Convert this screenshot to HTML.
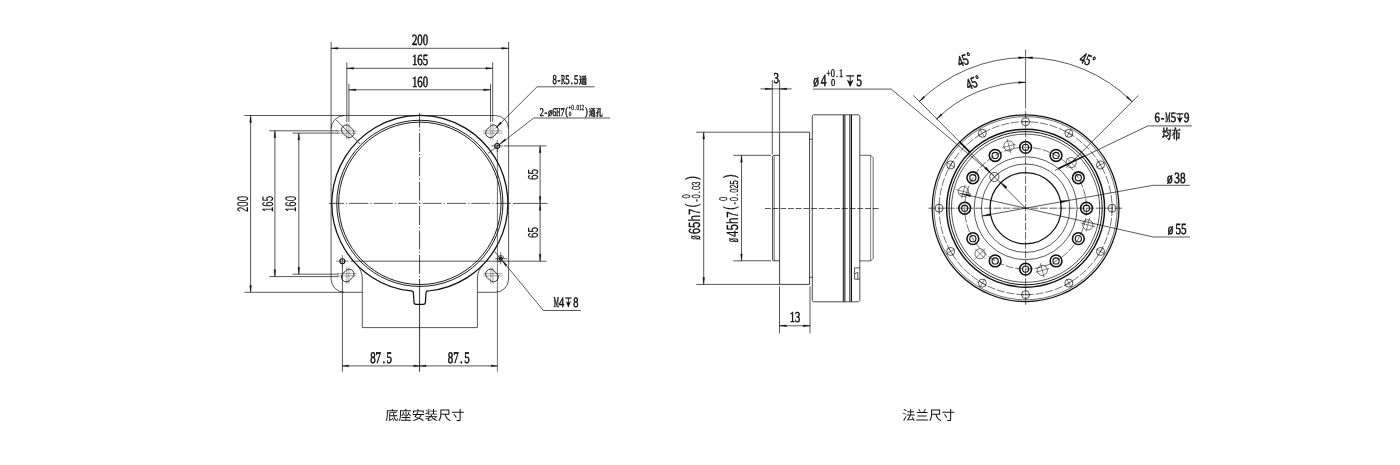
<!DOCTYPE html>
<html lang="zh"><head><meta charset="utf-8"><title>底座安装尺寸 / 法兰尺寸</title>
<style>
html,body{margin:0;padding:0;background:#fff;}
body{width:1400px;height:465px;overflow:hidden;font-family:"Liberation Sans",sans-serif;}
svg{display:block;will-change:transform;}
</style></head><body>
<svg width="1400" height="465" viewBox="0 0 1400 465" text-rendering="geometricPrecision">
<rect width="1400" height="465" fill="#fff"/>
<path d="M331.1,279 V128.8 A13.3,13.3 0 0 1 344.4,115.5 H495.3 A13.3,13.3 0 0 1 508.6,128.8 V279 A13.3,13.3 0 0 1 495.3,292.3 H477.4 M331.1,279 A13.3,13.3 0 0 0 344.4,292.3 H362.3" stroke="#111" stroke-width="0.7" fill="none"/>
<path d="M356.83,264.91 A19.9,19.9 0 0 1 362.3,279 V327.6 H477.4 V279 A19.9,19.9 0 0 1 482.87,264.91" stroke="#111" stroke-width="0.7" fill="none"/>
<path d="M428.2,291 A88.0,88.0 0 1 0 411.2,290.97 Q413.4,290.86 413.4,293.16 L414,302.3 Q414.1,304.3 416,304.3 H423.4 Q425.3,304.3 425.4,302.3 L426,293.18 Q426,290.88 428.2,291 Z" stroke="#111" stroke-width="1.25" fill="none"/>
<circle cx="419.85" cy="203.35" r="83.1" stroke="#111" stroke-width="0.95" fill="none"/>
<circle cx="419.85" cy="203.35" r="81.2" stroke="#111" stroke-width="0.95" fill="none"/>
<line x1="329" y1="203.4" x2="510.8" y2="203.4" stroke="#111" stroke-width="0.7" stroke-dasharray="19.1 2 1.3 2" stroke-dashoffset="4.1"/>
<line x1="513" y1="203.4" x2="547.5" y2="203.4" stroke="#111" stroke-width="0.7"/>
<line x1="419.6" y1="113.2" x2="419.6" y2="277.5" stroke="#111" stroke-width="0.8" stroke-dasharray="19.1 2 1.3 2" stroke-dashoffset="4.8"/>
<line x1="419.6" y1="279" x2="419.6" y2="371.7" stroke="#111" stroke-width="0.85"/>
<rect x="-6.9" y="-4.8" width="13.8" height="9.6" rx="4.8" ry="4.8" transform="translate(347.75,131.3) rotate(-135)" fill="none" stroke="#111" stroke-width="0.8"/>
<line x1="346.8" y1="123" x2="346.8" y2="139.6" stroke="#333" stroke-width="0.45"/>
<line x1="348.9" y1="123" x2="348.9" y2="139.6" stroke="#333" stroke-width="0.45"/>
<line x1="337.25" y1="130.9" x2="356.55" y2="130.9" stroke="#333" stroke-width="0.45"/>
<line x1="337.25" y1="133.2" x2="356.55" y2="133.2" stroke="#333" stroke-width="0.45"/>
<rect x="-6.9" y="-4.8" width="13.8" height="9.6" rx="4.8" ry="4.8" transform="translate(491.95,131.3) rotate(-45)" fill="none" stroke="#111" stroke-width="0.8"/>
<line x1="492.9" y1="123" x2="492.9" y2="139.6" stroke="#333" stroke-width="0.45"/>
<line x1="490.8" y1="123" x2="490.8" y2="139.6" stroke="#333" stroke-width="0.45"/>
<line x1="483.15" y1="130.9" x2="502.45" y2="130.9" stroke="#333" stroke-width="0.45"/>
<line x1="483.15" y1="133.2" x2="502.45" y2="133.2" stroke="#333" stroke-width="0.45"/>
<rect x="-6.9" y="-4.8" width="13.8" height="9.6" rx="4.8" ry="4.8" transform="translate(347.75,275.5) rotate(135)" fill="none" stroke="#111" stroke-width="0.8"/>
<line x1="346.8" y1="267.2" x2="346.8" y2="283.8" stroke="#333" stroke-width="0.45"/>
<line x1="348.9" y1="267.2" x2="348.9" y2="283.8" stroke="#333" stroke-width="0.45"/>
<line x1="337.25" y1="275.9" x2="356.55" y2="275.9" stroke="#333" stroke-width="0.45"/>
<line x1="337.25" y1="273.6" x2="356.55" y2="273.6" stroke="#333" stroke-width="0.45"/>
<rect x="-6.9" y="-4.8" width="13.8" height="9.6" rx="4.8" ry="4.8" transform="translate(491.95,275.5) rotate(45)" fill="none" stroke="#111" stroke-width="0.8"/>
<line x1="492.9" y1="267.2" x2="492.9" y2="283.8" stroke="#333" stroke-width="0.45"/>
<line x1="490.8" y1="267.2" x2="490.8" y2="283.8" stroke="#333" stroke-width="0.45"/>
<line x1="483.15" y1="275.9" x2="502.45" y2="275.9" stroke="#333" stroke-width="0.45"/>
<line x1="483.15" y1="273.6" x2="502.45" y2="273.6" stroke="#333" stroke-width="0.45"/>
<line x1="336.2" y1="119.9" x2="360.1" y2="144" stroke="#111" stroke-width="0.7"/>
<circle cx="497.2" cy="145.9" r="2.45" stroke="#111" stroke-width="1.15" fill="none"/>
<line x1="491.2" y1="145.9" x2="503.2" y2="145.9" stroke="#111" stroke-width="0.6"/>
<line x1="497.2" y1="139.9" x2="497.2" y2="151.9" stroke="#111" stroke-width="0.6"/>
<circle cx="342.4" cy="261.2" r="2.45" stroke="#111" stroke-width="1.15" fill="none"/>
<line x1="336.4" y1="261.2" x2="348.4" y2="261.2" stroke="#111" stroke-width="0.6"/>
<line x1="342.4" y1="255.2" x2="342.4" y2="267.2" stroke="#111" stroke-width="0.6"/>
<circle cx="500.7" cy="258.7" r="1.5" stroke="#111" stroke-width="1.2" fill="none"/>
<path d="M504.0,258.7 A3.3,3.3 0 1 0 500.7,262.0" stroke="#111" stroke-width="0.6" fill="none"/>
<line x1="495.2" y1="258.7" x2="507.4" y2="258.7" stroke="#111" stroke-width="0.6"/>
<line x1="500.7" y1="252.3" x2="500.7" y2="264.5" stroke="#111" stroke-width="0.6"/>
<line x1="331.1" y1="41.8" x2="331.1" y2="128.8" stroke="#111" stroke-width="0.7"/>
<line x1="508.6" y1="41.8" x2="508.6" y2="128.8" stroke="#111" stroke-width="0.7"/>
<line x1="331.1" y1="48.3" x2="508.6" y2="48.3" stroke="#111" stroke-width="0.7"/>
<polygon points="331.1,48.3 338,47.4 338,49.2" fill="#111" stroke="#111" stroke-width="0.3"/>
<polygon points="508.6,48.3 501.7,49.2 501.7,47.4" fill="#111" stroke="#111" stroke-width="0.3"/>
<g transform="translate(420,45.3)" font-family="'Liberation Serif', serif" font-size="15.57" text-anchor="middle" fill="#111" stroke="#111" stroke-width="0.6">
<text transform="scale(0.694,1)" x="-7.78 0 7.78">200</text>
</g>
<line x1="346.8" y1="62.3" x2="346.8" y2="122" stroke="#111" stroke-width="0.7"/>
<line x1="492.7" y1="62.3" x2="492.7" y2="122" stroke="#111" stroke-width="0.7"/>
<line x1="346.8" y1="68.3" x2="492.7" y2="68.3" stroke="#111" stroke-width="0.7"/>
<polygon points="346.8,68.3 353.7,67.4 353.7,69.2" fill="#111" stroke="#111" stroke-width="0.3"/>
<polygon points="492.7,68.3 485.8,69.2 485.8,67.4" fill="#111" stroke="#111" stroke-width="0.3"/>
<g transform="translate(420,65.3)" font-family="'Liberation Serif', serif" font-size="15.57" text-anchor="middle" fill="#111" stroke="#111" stroke-width="0.6">
<text transform="scale(0.694,1)" x="-7.78 0 7.78">165</text>
</g>
<line x1="348.9" y1="83.8" x2="348.9" y2="122" stroke="#111" stroke-width="0.7"/>
<line x1="490.5" y1="83.8" x2="490.5" y2="122" stroke="#111" stroke-width="0.7"/>
<line x1="348.9" y1="89.8" x2="490.5" y2="89.8" stroke="#111" stroke-width="0.7"/>
<polygon points="348.9,89.8 355.8,88.9 355.8,90.7" fill="#111" stroke="#111" stroke-width="0.3"/>
<polygon points="490.5,89.8 483.6,90.7 483.6,88.9" fill="#111" stroke="#111" stroke-width="0.3"/>
<g transform="translate(420,87.2)" font-family="'Liberation Serif', serif" font-size="15.57" text-anchor="middle" fill="#111" stroke="#111" stroke-width="0.6">
<text transform="scale(0.694,1)" x="-7.78 0 7.78">160</text>
</g>
<line x1="244.4" y1="115.5" x2="344.4" y2="115.5" stroke="#111" stroke-width="0.7"/>
<line x1="244.4" y1="292.3" x2="344.4" y2="292.3" stroke="#111" stroke-width="0.7"/>
<line x1="250.6" y1="115.5" x2="250.6" y2="292.3" stroke="#111" stroke-width="0.7"/>
<polygon points="250.6,115.5 251.5,122.4 249.7,122.4" fill="#111" stroke="#111" stroke-width="0.3"/>
<polygon points="250.6,292.3 249.7,285.4 251.5,285.4" fill="#111" stroke="#111" stroke-width="0.3"/>
<g transform="translate(248.4,204) rotate(-90)" font-family="'Liberation Sans', sans-serif" font-size="15.45" text-anchor="middle" fill="#111" stroke="#111" stroke-width="0.12">
<text transform="scale(0.617,1)" x="-8.59 0 8.59">200</text>
</g>
<line x1="269.1" y1="130.8" x2="338.5" y2="130.8" stroke="#111" stroke-width="0.7"/>
<line x1="269.1" y1="276.6" x2="338.5" y2="276.6" stroke="#111" stroke-width="0.7"/>
<line x1="274.9" y1="130.8" x2="274.9" y2="276.6" stroke="#111" stroke-width="0.7"/>
<polygon points="274.9,130.8 275.8,137.7 274,137.7" fill="#111" stroke="#111" stroke-width="0.3"/>
<polygon points="274.9,276.6 274,269.7 275.8,269.7" fill="#111" stroke="#111" stroke-width="0.3"/>
<g transform="translate(273,204) rotate(-90)" font-family="'Liberation Sans', sans-serif" font-size="15.45" text-anchor="middle" fill="#111" stroke="#111" stroke-width="0.12">
<text transform="scale(0.617,1)" x="-8.59 0 8.59">165</text>
</g>
<line x1="292.6" y1="133.1" x2="338.5" y2="133.1" stroke="#111" stroke-width="0.7"/>
<line x1="292.6" y1="274.2" x2="338.5" y2="274.2" stroke="#111" stroke-width="0.7"/>
<line x1="298.8" y1="133.1" x2="298.8" y2="274.2" stroke="#111" stroke-width="0.7"/>
<polygon points="298.8,133.1 299.7,140 297.9,140" fill="#111" stroke="#111" stroke-width="0.3"/>
<polygon points="298.8,274.2 297.9,267.3 299.7,267.3" fill="#111" stroke="#111" stroke-width="0.3"/>
<g transform="translate(296.1,204) rotate(-90)" font-family="'Liberation Sans', sans-serif" font-size="15.45" text-anchor="middle" fill="#111" stroke="#111" stroke-width="0.12">
<text transform="scale(0.617,1)" x="-8.59 0 8.59">160</text>
</g>
<line x1="504" y1="145.9" x2="546.5" y2="145.9" stroke="#111" stroke-width="0.7"/>
<line x1="350.6" y1="261.2" x2="546.5" y2="261.2" stroke="#111" stroke-width="0.7"/>
<line x1="540.1" y1="145.9" x2="540.1" y2="261.2" stroke="#111" stroke-width="0.7"/>
<polygon points="540.1,145.9 541,152.8 539.2,152.8" fill="#111" stroke="#111" stroke-width="0.3"/>
<polygon points="540.1,203.3 539.2,196.4 541,196.4" fill="#111" stroke="#111" stroke-width="0.3"/>
<polygon points="540.1,203.3 541,210.2 539.2,210.2" fill="#111" stroke="#111" stroke-width="0.3"/>
<polygon points="540.1,261.2 539.2,254.3 541,254.3" fill="#111" stroke="#111" stroke-width="0.3"/>
<g transform="translate(538,174.4) rotate(-90)" font-family="'Liberation Sans', sans-serif" font-size="14.47" text-anchor="middle" fill="#111" stroke="#111" stroke-width="0.12">
<text transform="scale(0.696,1)" x="-4.02 4.02">65</text>
</g>
<g transform="translate(538,232.4) rotate(-90)" font-family="'Liberation Sans', sans-serif" font-size="14.47" text-anchor="middle" fill="#111" stroke="#111" stroke-width="0.12">
<text transform="scale(0.696,1)" x="-4.02 4.02">65</text>
</g>
<line x1="342.4" y1="264.5" x2="342.4" y2="371.7" stroke="#111" stroke-width="0.7"/>
<line x1="497.4" y1="149.5" x2="497.4" y2="371.7" stroke="#111" stroke-width="0.6"/>
<line x1="342.4" y1="365.9" x2="497.4" y2="365.9" stroke="#111" stroke-width="0.7"/>
<polygon points="342.4,365.9 348.6,365 348.6,366.8" fill="#111" stroke="#111" stroke-width="0.3"/>
<polygon points="419.8,365.9 413.6,366.8 413.6,365" fill="#111" stroke="#111" stroke-width="0.3"/>
<polygon points="419.8,365.9 426,365 426,366.8" fill="#111" stroke="#111" stroke-width="0.3"/>
<polygon points="497.4,365.9 491.2,366.8 491.2,365" fill="#111" stroke="#111" stroke-width="0.3"/>
<g transform="translate(381.05,363)" font-family="'Liberation Serif', serif" font-size="16.17" text-anchor="middle" fill="#111" stroke="#111" stroke-width="0.6">
<text transform="scale(0.674,1)" x="-12.13 -4.04 4.04 12.13">87.5</text>
</g>
<g transform="translate(458.75,363)" font-family="'Liberation Serif', serif" font-size="16.17" text-anchor="middle" fill="#111" stroke="#111" stroke-width="0.6">
<text transform="scale(0.674,1)" x="-12.13 -4.04 4.04 12.13">87.5</text>
</g>
<path d="M594.7,86.8 H537 L495.7,128.0" stroke="#111" stroke-width="0.7" fill="none"/>
<polygon points="495.7,128 500.37,122.07 501.65,123.34" fill="#111" stroke="#111" stroke-width="0.3"/>
<path d="M610,118 H533.7 L488,153.5" stroke="#111" stroke-width="0.7" fill="none"/>
<polygon points="499.4,144.2 504.77,138.89 505.88,140.31" fill="#111" stroke="#111" stroke-width="0.3"/>
<path d="M581,310.5 H543.4 L500.7,258.7 L494.5,251.6" stroke="#111" stroke-width="0.7" fill="none"/>
<polygon points="501.6,259.8 507.07,265.01 505.68,266.16" fill="#111" stroke="#111" stroke-width="0.3"/>
<g transform="translate(552.4,83.6)" font-family="'Liberation Serif', serif" font-size="13.47" text-anchor="middle" fill="#111" stroke="#111" stroke-width="0.54">
<text transform="scale(0.638,1)" x="3.37 10.11">8-</text>
<text transform="scale(0.469,1)" x="22.92">R</text>
<text transform="scale(0.638,1)" x="23.59 30.33 37.07">5.5</text>
</g>
<g transform="translate(578.79,83.9)" font-family="'Liberation Serif', 'Noto Serif CJK SC', serif" font-weight="bold" font-size="10.23" fill="#111" stroke="#111" stroke-width="0.3">
<text transform="scale(0.813,1)" x="0" y="0">通</text>
</g>
<g transform="translate(539.8,116)" font-family="'Liberation Serif', serif" font-size="11.68" text-anchor="middle" fill="#111" stroke="#111" stroke-width="0.47">
<text transform="scale(0.706,1)" x="2.92 8.75 14.59 20.42">2-ø6</text>
<text transform="scale(0.479,1)" x="38.71">H</text>
<text transform="scale(0.706,1)" x="32.1">7</text>
<text transform="scale(0.706,1)" x="37.93" y="-1">(</text>
</g>
<g transform="translate(568.6,110.4)" font-family="'Liberation Serif', serif" font-size="7.78" text-anchor="middle" fill="#111" stroke="#111" stroke-width="0.3">
<text transform="scale(0.580,1)" x="2.24">+</text>
<text transform="scale(0.668,1)" x="5.84 9.73 13.62 17.51 21.41">0.012</text>
</g>
<g transform="translate(568.8,116)" font-family="'Liberation Serif', serif" font-size="6.59" text-anchor="middle" fill="#111" stroke="#111" stroke-width="0.3">
<text transform="scale(0.789,1)" x="1.65">0</text>
</g>
<g transform="translate(584.4,116)" font-family="'Liberation Serif', serif" font-size="11.68" text-anchor="middle" fill="#111" stroke="#111" stroke-width="0.47">
<text transform="scale(0.706,1)" x="2.92" y="-1">)</text>
</g>
<g transform="translate(588.67,116.16)" font-family="'Liberation Serif', 'Noto Serif CJK SC', serif" font-weight="bold" font-size="9.59" fill="#111" stroke="#111" stroke-width="0.3">
<text transform="scale(0.7247,1)" x="0 9.8" y="0">通孔</text>
</g>
<g transform="translate(553.8,306.5)" font-family="'Liberation Serif', serif" font-size="14.37" text-anchor="middle" fill="#111" stroke="#111" stroke-width="0.58">
<text transform="scale(0.399,1)" x="6.52">M</text>
<text transform="scale(0.724,1)" x="10.77">4</text>
</g>
<path d="M565.3,298 H571.5" stroke="#111" stroke-width="1.2" fill="none"/>
<path d="M568.4,298 V306.6" stroke="#111" stroke-width="0.9" fill="none"/>
<polygon points="568.4,307.6 565.8,301.07 568.4,303.01 571,301.07" fill="#111"/>
<g transform="translate(573.15,306.5)" font-family="'Liberation Serif', serif" font-size="14.37" text-anchor="middle" fill="#111" stroke="#111" stroke-width="0.58">
<text transform="scale(0.724,1)" x="3.59">8</text>
</g>
<path d="M779.6,155.3 H773.6 L772.6,156.3 V260.3 L773.6,260.8 H779.6" stroke="#111" stroke-width="0.8" fill="none"/>
<line x1="774.2" y1="155.8" x2="774.2" y2="260.8" stroke="#111" stroke-width="0.6"/>
<path d="M779.6,132.2 H809.6 V284.4 H779.6 Z" stroke="#111" stroke-width="0.8" fill="none"/>
<path d="M809.6,139.3 H812.3 M809.6,277.3 H812.3" stroke="#111" stroke-width="0.7" fill="none"/>
<path d="M813.3,114.8 H858.6 L859.8,116.0 V300.6 L858.6,301.8 H813.3 L812.3,300.8 V115.8 Z" stroke="#111" stroke-width="0.75" fill="none"/>
<line x1="843.3" y1="114.9" x2="843.3" y2="301.7" stroke="#111" stroke-width="1.0"/>
<line x1="844.9" y1="114.9" x2="844.9" y2="301.7" stroke="#111" stroke-width="1.0"/>
<line x1="849.9" y1="114.9" x2="849.9" y2="301.7" stroke="#111" stroke-width="1.0"/>
<line x1="851.5" y1="114.9" x2="851.5" y2="301.7" stroke="#111" stroke-width="1.0"/>
<path d="M859.8,155.3 H870.6 L873.2,157.9 V258.3 L870.6,260.9 H859.8" stroke="#111" stroke-width="0.65" fill="none"/>
<line x1="870.6" y1="155.3" x2="870.6" y2="260.9" stroke="#111" stroke-width="0.5"/>
<path d="M859.8,267.9 H854.6 V279.2 H859.8 M854.6,274 L857.8,272.2 V279.2" stroke="#111" stroke-width="0.7" fill="none"/>
<line x1="764.9" y1="208.5" x2="878.8" y2="208.5" stroke="#111" stroke-width="0.7" stroke-dasharray="5.9 1.8"/>
<line x1="772.3" y1="80" x2="772.3" y2="154.6" stroke="#111" stroke-width="0.7"/>
<line x1="779.6" y1="80" x2="779.6" y2="131.5" stroke="#111" stroke-width="0.7"/>
<line x1="760.4" y1="88.9" x2="791.7" y2="88.9" stroke="#111" stroke-width="0.7"/>
<polygon points="772.3,88.9 765.3,89.8 765.3,88" fill="#111" stroke="#111" stroke-width="0.3"/>
<polygon points="779.6,88.9 786.6,88 786.6,89.8" fill="#111" stroke="#111" stroke-width="0.3"/>
<g transform="translate(776.15,83.3)" font-family="'Liberation Serif', serif" font-size="14.97" text-anchor="middle" fill="#111" stroke="#111" stroke-width="0.6">
<text transform="scale(0.735,1)" x="0">3</text>
</g>
<line x1="696.1" y1="132.2" x2="779.6" y2="132.2" stroke="#111" stroke-width="0.7"/>
<line x1="696.1" y1="284.4" x2="779.6" y2="284.4" stroke="#111" stroke-width="0.7"/>
<line x1="703.7" y1="132.2" x2="703.7" y2="284.4" stroke="#111" stroke-width="0.7"/>
<polygon points="703.7,132.2 704.6,139.1 702.8,139.1" fill="#111" stroke="#111" stroke-width="0.3"/>
<polygon points="703.7,284.4 702.8,277.5 704.6,277.5" fill="#111" stroke="#111" stroke-width="0.3"/>
<line x1="733.2" y1="155.3" x2="771" y2="155.3" stroke="#111" stroke-width="0.7"/>
<line x1="733.2" y1="260.8" x2="771" y2="260.8" stroke="#111" stroke-width="0.7"/>
<line x1="741.5" y1="155.3" x2="741.5" y2="260.8" stroke="#111" stroke-width="0.7"/>
<polygon points="741.5,155.3 742.4,162.2 740.6,162.2" fill="#111" stroke="#111" stroke-width="0.3"/>
<polygon points="741.5,260.8 740.6,253.9 742.4,253.9" fill="#111" stroke="#111" stroke-width="0.3"/>
<g transform="translate(699.7,240.7) rotate(-90)" font-family="'Liberation Sans', sans-serif" font-size="16.29" text-anchor="middle" fill="#111" stroke="#111" stroke-width="0.2">
<text transform="scale(0.466,1)" x="6.87">ø</text>
<text transform="scale(0.707,1)" x="13.58 22.63 31.68 40.74">65h7</text>
<text transform="scale(0.707,1)" x="49.79" y="-2.3">(</text>
</g>
<g transform="translate(689.6,198.5) rotate(-90)" font-family="'Liberation Sans', sans-serif" font-size="11.1" text-anchor="middle" fill="#111" stroke="#111" stroke-width="0.25">
<text transform="scale(0.681,1)" x="3.08">0</text>
</g>
<g transform="translate(699.7,202.6) rotate(-90)" font-family="'Liberation Sans', sans-serif" font-size="11.66" text-anchor="middle" fill="#111" stroke="#111" stroke-width="0.25">
<text transform="scale(0.648,1)" x="3.24 9.72 16.2 22.69 29.17">-0.03</text>
</g>
<g transform="translate(699.7,181) rotate(-90)" font-family="'Liberation Sans', sans-serif" font-size="16.29" text-anchor="middle" fill="#111" stroke="#111" stroke-width="0.2">
<text transform="scale(0.707,1)" x="4.53" y="-2.3">)</text>
</g>
<g transform="translate(737.7,243.3) rotate(-90)" font-family="'Liberation Sans', sans-serif" font-size="16.29" text-anchor="middle" fill="#111" stroke="#111" stroke-width="0.2">
<text transform="scale(0.466,1)" x="6.87">ø</text>
<text transform="scale(0.707,1)" x="13.58 22.63 31.68 40.74">45h7</text>
<text transform="scale(0.707,1)" x="49.79" y="-2.3">(</text>
</g>
<g transform="translate(727.1,201) rotate(-90)" font-family="'Liberation Sans', sans-serif" font-size="11.1" text-anchor="middle" fill="#111" stroke="#111" stroke-width="0.25">
<text transform="scale(0.681,1)" x="3.08">0</text>
</g>
<g transform="translate(737.7,205.4) rotate(-90)" font-family="'Liberation Sans', sans-serif" font-size="11.66" text-anchor="middle" fill="#111" stroke="#111" stroke-width="0.25">
<text transform="scale(0.648,1)" x="3.24 9.72 16.2 22.69 29.17 35.65">-0.025</text>
</g>
<g transform="translate(737.7,179.4) rotate(-90)" font-family="'Liberation Sans', sans-serif" font-size="16.29" text-anchor="middle" fill="#111" stroke="#111" stroke-width="0.2">
<text transform="scale(0.707,1)" x="4.53" y="-2.3">)</text>
</g>
<line x1="779.5" y1="286.3" x2="779.5" y2="333.4" stroke="#111" stroke-width="0.7"/>
<line x1="810" y1="286.3" x2="810" y2="333.4" stroke="#111" stroke-width="0.7"/>
<line x1="779.5" y1="325.8" x2="810.1" y2="325.8" stroke="#111" stroke-width="0.7"/>
<polygon points="779.5,325.8 786.5,324.9 786.5,326.7" fill="#111" stroke="#111" stroke-width="0.3"/>
<polygon points="810.1,325.8 803.1,326.7 803.1,324.9" fill="#111" stroke="#111" stroke-width="0.3"/>
<g transform="translate(795.1,321.9)" font-family="'Liberation Serif', serif" font-size="14.97" text-anchor="middle" fill="#111" stroke="#111" stroke-width="0.6">
<text transform="scale(0.708,1)" x="-3.74 3.74">13</text>
</g>
<path d="M813,89.1 H891.3 L994.0,175.6" stroke="#111" stroke-width="0.7" fill="none"/>
<g transform="translate(812.5,86.2)" font-family="'Liberation Serif', serif" font-size="16.92" text-anchor="middle" fill="#111" stroke="#111" stroke-width="0.6">
<text transform="scale(0.674,1)" x="5.49 16.47">ø4</text>
</g>
<g transform="translate(826.5,76.8)" font-family="'Liberation Serif', serif" font-size="11.53" text-anchor="middle" fill="#111" stroke="#111" stroke-width="0.35">
<text transform="scale(0.633,1)" x="3.32">+</text>
<text transform="scale(0.729,1)" x="8.64 14.4 20.16">0.1</text>
</g>
<g transform="translate(830.9,86.2)" font-family="'Liberation Serif', serif" font-size="10.48" text-anchor="middle" fill="#111" stroke="#111" stroke-width="0.35">
<text transform="scale(0.802,1)" x="2.62">0</text>
</g>
<path d="M846.3,75.9 H854.1" stroke="#111" stroke-width="1.2" fill="none"/>
<path d="M850.2,75.9 V85.9" stroke="#111" stroke-width="0.9" fill="none"/>
<polygon points="850.2,86.9 846.8,79.48 850.2,81.68 853.6,79.48" fill="#111"/>
<g transform="translate(855.5,86.2)" font-family="'Liberation Serif', serif" font-size="16.92" text-anchor="middle" fill="#111" stroke="#111" stroke-width="0.6">
<text transform="scale(0.674,1)" x="5.49">5</text>
</g>
<circle cx="1025.6" cy="208.2" r="93.4" stroke="#111" stroke-width="1.25" fill="none"/>
<circle cx="1025.6" cy="208.2" r="91.6" stroke="#111" stroke-width="0.6" fill="none"/>
<circle cx="1025.6" cy="208.2" r="86.5" stroke="#111" stroke-width="0.6" fill="none" stroke-dasharray="8 1.8"/>
<circle cx="1025.6" cy="208.2" r="79" stroke="#111" stroke-width="1.45" fill="none"/>
<circle cx="1025.6" cy="208.2" r="76.6" stroke="#111" stroke-width="1.0" fill="none"/>
<circle cx="1025.6" cy="208.2" r="74.1" stroke="#111" stroke-width="0.7" fill="none"/>
<circle cx="1025.6" cy="208.2" r="60.9" stroke="#111" stroke-width="0.6" fill="none" stroke-dasharray="8 1.8"/>
<circle cx="1025.6" cy="208.2" r="51.5" stroke="#111" stroke-width="0.7" fill="none"/>
<circle cx="1025.6" cy="208.2" r="44.2" stroke="#111" stroke-width="0.7" fill="none"/>
<circle cx="1025.6" cy="208.2" r="35.6" stroke="#111" stroke-width="1.25" fill="none"/>
<circle cx="1025.6" cy="121.7" r="4" stroke="#111" stroke-width="0.7" fill="none"/>
<line x1="1021" y1="121.7" x2="1030.2" y2="121.7" stroke="#111" stroke-width="0.5"/>
<circle cx="1025.6" cy="147.3" r="5.9" stroke="#111" stroke-width="1.55" fill="none"/>
<circle cx="1025.6" cy="147.3" r="3.1" stroke="#111" stroke-width="1.1" fill="none"/>
<circle cx="1068.85" cy="133.29" r="4" stroke="#111" stroke-width="0.7" fill="none"/>
<line x1="1066.45" y1="137.45" x2="1071.25" y2="129.13" stroke="#111" stroke-width="0.5"/>
<line x1="1064.87" y1="130.99" x2="1072.83" y2="135.59" stroke="#111" stroke-width="0.5"/>
<circle cx="1056.05" cy="155.46" r="5.9" stroke="#111" stroke-width="1.55" fill="none"/>
<circle cx="1056.05" cy="155.46" r="3.1" stroke="#111" stroke-width="1.1" fill="none"/>
<circle cx="1100.51" cy="164.95" r="4" stroke="#111" stroke-width="0.7" fill="none"/>
<line x1="1096.35" y1="167.35" x2="1104.67" y2="162.55" stroke="#111" stroke-width="0.5"/>
<line x1="1098.21" y1="160.97" x2="1102.81" y2="168.93" stroke="#111" stroke-width="0.5"/>
<circle cx="1078.34" cy="177.75" r="5.9" stroke="#111" stroke-width="1.55" fill="none"/>
<circle cx="1078.34" cy="177.75" r="3.1" stroke="#111" stroke-width="1.1" fill="none"/>
<circle cx="1112.1" cy="208.2" r="4" stroke="#111" stroke-width="0.7" fill="none"/>
<line x1="1112.1" y1="203.6" x2="1112.1" y2="212.8" stroke="#111" stroke-width="0.5"/>
<circle cx="1086.5" cy="208.2" r="5.9" stroke="#111" stroke-width="1.55" fill="none"/>
<circle cx="1086.5" cy="208.2" r="3.1" stroke="#111" stroke-width="1.1" fill="none"/>
<circle cx="1100.51" cy="251.45" r="4" stroke="#111" stroke-width="0.7" fill="none"/>
<line x1="1096.35" y1="249.05" x2="1104.67" y2="253.85" stroke="#111" stroke-width="0.5"/>
<line x1="1102.81" y1="247.47" x2="1098.21" y2="255.43" stroke="#111" stroke-width="0.5"/>
<circle cx="1078.34" cy="238.65" r="5.9" stroke="#111" stroke-width="1.55" fill="none"/>
<circle cx="1078.34" cy="238.65" r="3.1" stroke="#111" stroke-width="1.1" fill="none"/>
<circle cx="1068.85" cy="283.11" r="4" stroke="#111" stroke-width="0.7" fill="none"/>
<line x1="1066.45" y1="278.95" x2="1071.25" y2="287.27" stroke="#111" stroke-width="0.5"/>
<line x1="1072.83" y1="280.81" x2="1064.87" y2="285.41" stroke="#111" stroke-width="0.5"/>
<circle cx="1056.05" cy="260.94" r="5.9" stroke="#111" stroke-width="1.55" fill="none"/>
<circle cx="1056.05" cy="260.94" r="3.1" stroke="#111" stroke-width="1.1" fill="none"/>
<circle cx="1025.6" cy="294.7" r="4" stroke="#111" stroke-width="0.7" fill="none"/>
<line x1="1030.2" y1="294.7" x2="1021" y2="294.7" stroke="#111" stroke-width="0.5"/>
<circle cx="1025.6" cy="269.1" r="5.9" stroke="#111" stroke-width="1.55" fill="none"/>
<circle cx="1025.6" cy="269.1" r="3.1" stroke="#111" stroke-width="1.1" fill="none"/>
<circle cx="982.35" cy="283.11" r="4" stroke="#111" stroke-width="0.7" fill="none"/>
<line x1="984.75" y1="278.95" x2="979.95" y2="287.27" stroke="#111" stroke-width="0.5"/>
<line x1="986.33" y1="285.41" x2="978.37" y2="280.81" stroke="#111" stroke-width="0.5"/>
<circle cx="995.15" cy="260.94" r="5.9" stroke="#111" stroke-width="1.55" fill="none"/>
<circle cx="995.15" cy="260.94" r="3.1" stroke="#111" stroke-width="1.1" fill="none"/>
<circle cx="950.69" cy="251.45" r="4" stroke="#111" stroke-width="0.7" fill="none"/>
<line x1="954.85" y1="249.05" x2="946.53" y2="253.85" stroke="#111" stroke-width="0.5"/>
<line x1="952.99" y1="255.43" x2="948.39" y2="247.47" stroke="#111" stroke-width="0.5"/>
<circle cx="972.86" cy="238.65" r="5.9" stroke="#111" stroke-width="1.55" fill="none"/>
<circle cx="972.86" cy="238.65" r="3.1" stroke="#111" stroke-width="1.1" fill="none"/>
<circle cx="939.1" cy="208.2" r="4" stroke="#111" stroke-width="0.7" fill="none"/>
<line x1="939.1" y1="212.8" x2="939.1" y2="203.6" stroke="#111" stroke-width="0.5"/>
<circle cx="964.7" cy="208.2" r="5.9" stroke="#111" stroke-width="1.55" fill="none"/>
<circle cx="964.7" cy="208.2" r="3.1" stroke="#111" stroke-width="1.1" fill="none"/>
<circle cx="950.69" cy="164.95" r="4" stroke="#111" stroke-width="0.7" fill="none"/>
<line x1="954.85" y1="167.35" x2="946.53" y2="162.55" stroke="#111" stroke-width="0.5"/>
<line x1="948.39" y1="168.93" x2="952.99" y2="160.97" stroke="#111" stroke-width="0.5"/>
<circle cx="972.86" cy="177.75" r="5.9" stroke="#111" stroke-width="1.55" fill="none"/>
<circle cx="972.86" cy="177.75" r="3.1" stroke="#111" stroke-width="1.1" fill="none"/>
<circle cx="982.35" cy="133.29" r="4" stroke="#111" stroke-width="0.7" fill="none"/>
<line x1="984.75" y1="137.45" x2="979.95" y2="129.13" stroke="#111" stroke-width="0.5"/>
<line x1="978.37" y1="135.59" x2="986.33" y2="130.99" stroke="#111" stroke-width="0.5"/>
<circle cx="995.15" cy="155.46" r="5.9" stroke="#111" stroke-width="1.55" fill="none"/>
<circle cx="995.15" cy="155.46" r="3.1" stroke="#111" stroke-width="1.1" fill="none"/>
<circle cx="1071.14" cy="162.66" r="5.1" stroke="#111" stroke-width="0.6" fill="none"/>
<line x1="1065.83" y1="167.97" x2="1076.44" y2="157.36" stroke="#111" stroke-width="0.5"/>
<line x1="1066.19" y1="157.71" x2="1076.09" y2="167.61" stroke="#111" stroke-width="0.5"/>
<circle cx="1087.81" cy="224.87" r="5.1" stroke="#111" stroke-width="0.6" fill="none"/>
<line x1="1080.56" y1="222.93" x2="1095.05" y2="226.81" stroke="#111" stroke-width="0.5"/>
<line x1="1089.62" y1="218.11" x2="1085.99" y2="231.63" stroke="#111" stroke-width="0.5"/>
<circle cx="1042.27" cy="270.41" r="5.1" stroke="#111" stroke-width="0.6" fill="none"/>
<line x1="1040.33" y1="263.16" x2="1044.21" y2="277.65" stroke="#111" stroke-width="0.5"/>
<line x1="1049.03" y1="268.59" x2="1035.51" y2="272.22" stroke="#111" stroke-width="0.5"/>
<circle cx="980.06" cy="253.74" r="5.1" stroke="#111" stroke-width="0.6" fill="none"/>
<line x1="985.37" y1="248.43" x2="974.76" y2="259.04" stroke="#111" stroke-width="0.5"/>
<line x1="985.01" y1="258.69" x2="975.11" y2="248.79" stroke="#111" stroke-width="0.5"/>
<circle cx="963.39" cy="191.53" r="5.1" stroke="#111" stroke-width="0.6" fill="none"/>
<line x1="970.64" y1="193.47" x2="956.15" y2="189.59" stroke="#111" stroke-width="0.5"/>
<line x1="961.58" y1="198.29" x2="965.21" y2="184.77" stroke="#111" stroke-width="0.5"/>
<circle cx="1008.93" cy="145.99" r="5.1" stroke="#111" stroke-width="0.6" fill="none"/>
<line x1="1010.87" y1="153.24" x2="1006.99" y2="138.75" stroke="#111" stroke-width="0.5"/>
<line x1="1002.17" y1="147.81" x2="1015.69" y2="144.18" stroke="#111" stroke-width="0.5"/>
<circle cx="994.35" cy="176.95" r="4.6" stroke="#111" stroke-width="0.7" fill="none"/>
<line x1="989.75" y1="181.54" x2="998.94" y2="172.35" stroke="#111" stroke-width="0.5"/>
<line x1="928.4" y1="208.2" x2="1122.9" y2="208.2" stroke="#111" stroke-width="0.65" stroke-dasharray="7.7 1.6"/>
<line x1="1025.6" y1="49.4" x2="1025.6" y2="108.5" stroke="#111" stroke-width="0.65"/>
<line x1="1025.6" y1="111" x2="1025.6" y2="305.3" stroke="#111" stroke-width="0.65" stroke-dasharray="7.7 1.6"/>
<line x1="913.4" y1="95.3" x2="1025.6" y2="208.2" stroke="#111" stroke-width="0.7"/>
<line x1="1138.5" y1="95.3" x2="1071.14" y2="162.66" stroke="#111" stroke-width="0.7"/>
<path d="M919.11,101.71 A150.6,150.6 0 0 1 1132.09,101.71" stroke="#111" stroke-width="0.7" fill="none"/>
<path d="M936.58,119.18 A125.9,125.9 0 0 1 1025.6,82.3" stroke="#111" stroke-width="0.7" fill="none"/>
<polygon points="919.11,101.71 923.55,96.23 924.79,97.53" fill="#111" stroke="#111" stroke-width="0.3"/>
<polygon points="1025.6,57.6 1018.62,58.66 1018.58,56.86" fill="#111" stroke="#111" stroke-width="0.3"/>
<polygon points="1025.6,57.6 1032.62,56.86 1032.58,58.66" fill="#111" stroke="#111" stroke-width="0.3"/>
<polygon points="1132.09,101.71 1126.41,97.53 1127.65,96.23" fill="#111" stroke="#111" stroke-width="0.3"/>
<polygon points="936.58,119.18 941.04,113.71 942.28,115.02" fill="#111" stroke="#111" stroke-width="0.3"/>
<polygon points="1025.6,82.3 1018.63,83.39 1018.58,81.59" fill="#111" stroke="#111" stroke-width="0.3"/>
<g transform="translate(959.8,67.3) rotate(-22.5)" font-family="'Liberation Serif', serif" font-size="15.72" text-anchor="middle" fill="#111" stroke="#111" stroke-width="0.6">
<text transform="scale(0.687,1)" x="3.93 11.79">45</text>
<text transform="scale(0.687,1)" x="18.71" y="-3.14" font-size="11.32">°</text>
</g>
<g transform="translate(968.5,90.1) rotate(-22.5)" font-family="'Liberation Serif', serif" font-size="15.72" text-anchor="middle" fill="#111" stroke="#111" stroke-width="0.6">
<text transform="scale(0.687,1)" x="3.93 11.79">45</text>
<text transform="scale(0.687,1)" x="18.71" y="-3.14" font-size="11.32">°</text>
</g>
<g transform="translate(1078.8,61.8) rotate(22.5)" font-family="'Liberation Serif', serif" font-size="15.72" text-anchor="middle" fill="#111" stroke="#111" stroke-width="0.6">
<text transform="scale(0.687,1)" x="3.93 11.79">45</text>
<text transform="scale(0.687,1)" x="18.71" y="-3.14" font-size="11.32">°</text>
</g>
<line x1="959.3" y1="141.6" x2="969.8" y2="152.1" stroke="#111" stroke-width="1.7"/>
<polygon points="991,173.4 984.57,168.52 986.12,166.97" fill="#111" stroke="#111" stroke-width="0.3"/>
<polygon points="1000.2,181.8 1006.99,187.03 1005.43,188.59" fill="#111" stroke="#111" stroke-width="0.3"/>
<path d="M1192,125.9 H1147.8 L1055.0,170.4" stroke="#111" stroke-width="0.7" fill="none"/>
<path d="M1058.5,168.5 L1083.5,156.4" stroke="#111" stroke-width="1.5" fill="none"/>
<g transform="translate(1154.5,122.2)" font-family="'Liberation Serif', serif" font-size="14.07" text-anchor="middle" fill="#111" stroke="#111" stroke-width="0.56">
<text transform="scale(0.767,1)" x="3.52 10.56">6-</text>
<text transform="scale(0.423,1)" x="31.91">M</text>
<text transform="scale(0.767,1)" x="24.64">5</text>
</g>
<path d="M1176.4,113.9 H1183.3" stroke="#111" stroke-width="1.2" fill="none"/>
<path d="M1179.85,113.9 V121.9" stroke="#111" stroke-width="0.9" fill="none"/>
<polygon points="1179.85,122.9 1176.9,116.76 1179.85,118.58 1182.8,116.76" fill="#111"/>
<g transform="translate(1184.05,122.2)" font-family="'Liberation Serif', serif" font-size="14.07" text-anchor="middle" fill="#111" stroke="#111" stroke-width="0.56">
<text transform="scale(0.767,1)" x="3.52">9</text>
</g>
<g transform="translate(1162.1,139.4)" font-family="'Liberation Serif', 'Noto Serif CJK SC', serif" font-weight="bold" font-size="13.65" fill="#111" stroke="#111" stroke-width="0.3">
<text transform="scale(0.681,1)" x="0 13.95" y="0">均布</text>
</g>
<path d="M1190,185.3 H1153.2 L982.1,216.01" stroke="#111" stroke-width="0.7" fill="none"/>
<polygon points="1069.1,200.39 1060.93,202.98 1060.54,200.81" fill="#111" stroke="#111" stroke-width="0.3"/>
<polygon points="982.1,216.01 990.27,213.42 990.66,215.59" fill="#111" stroke="#111" stroke-width="0.3"/>
<g transform="translate(1166.05,182.6)" font-family="'Liberation Serif', serif" font-size="15.42" text-anchor="middle" fill="#111" stroke="#111" stroke-width="0.6">
<text transform="scale(0.726,1)" x="5.1">ø</text>
</g>
<g transform="translate(1174.3,182.6)" font-family="'Liberation Serif', serif" font-size="15.42" text-anchor="middle" fill="#111" stroke="#111" stroke-width="0.6">
<text transform="scale(0.726,1)" x="3.86 11.57">38</text>
</g>
<path d="M1190,237 H1153.2 L959.6,193.3" stroke="#111" stroke-width="0.7" fill="none"/>
<polygon points="961.22,193.67 970.73,194.69 970.24,196.83" fill="#111" stroke="#111" stroke-width="0.3"/>
<g transform="translate(1166.9,234.2)" font-family="'Liberation Serif', serif" font-size="15.42" text-anchor="middle" fill="#111" stroke="#111" stroke-width="0.6">
<text transform="scale(0.726,1)" x="5.1">ø</text>
</g>
<g transform="translate(1175.4,234.2)" font-family="'Liberation Serif', serif" font-size="15.42" text-anchor="middle" fill="#111" stroke="#111" stroke-width="0.6">
<text transform="scale(0.726,1)" x="3.86 11.57">55</text>
</g>
<text x="385.3" y="420.4" font-size="13.2" fill="#111" font-family="'Liberation Sans', 'Noto Sans CJK SC', sans-serif">底座安装尺寸</text>
<text x="902.3" y="420.4" font-size="13.2" fill="#111" font-family="'Liberation Sans', 'Noto Sans CJK SC', sans-serif">法兰尺寸</text>
</svg>
</body></html>
